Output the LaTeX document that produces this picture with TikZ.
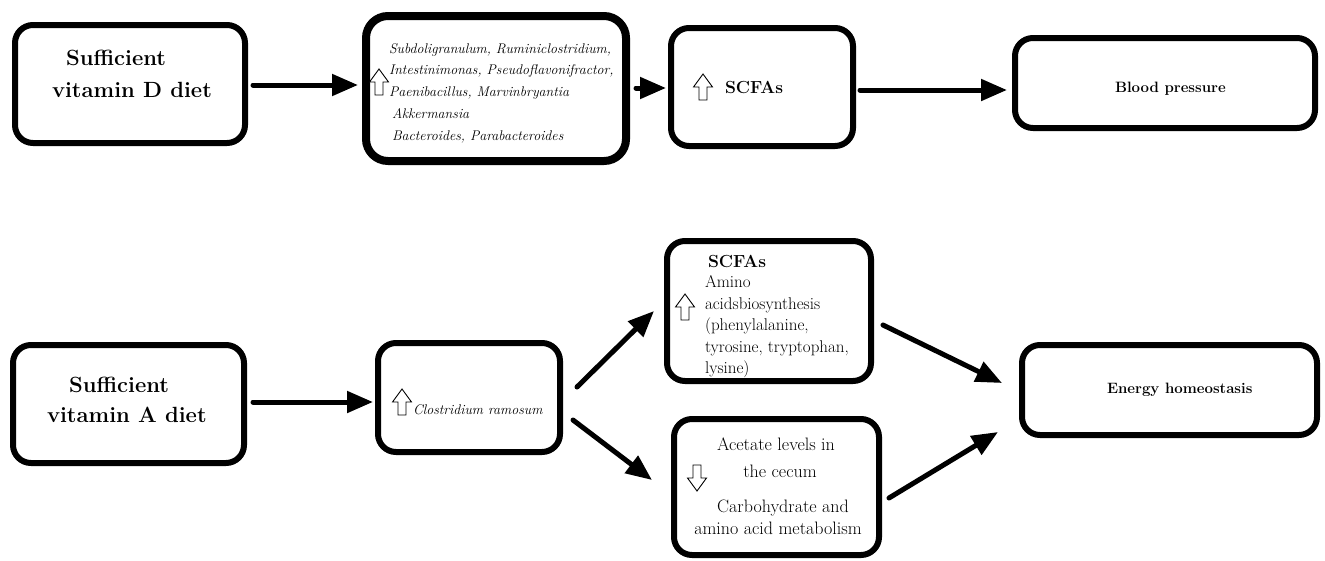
\documentclass[tikz,border=0pt]{standalone}
\usetikzlibrary{arrows.meta,calc}
\begin{document}
\begin{tikzpicture}[x=1pt,y=-1pt,
  box/.style={draw=black,line width=6pt,rounded corners=18pt,fill=white,outer sep=0pt,inner sep=0pt},
  arr/.style={line width=5pt,line cap=round,-{Triangle[length=26pt,width=21pt]}},
  tx/.style={inner sep=0pt,outer sep=0pt,anchor=base west,text=black},
  txc/.style={inner sep=0pt,outer sep=0pt,anchor=base,text=black},
  big/.style={font=\fontsize{22}{26}\selectfont\bfseries},
  bac/.style={font=\fontsize{14}{17}\selectfont\itshape},
  hd/.style={font=\fontsize{17.5}{21}\selectfont\bfseries},
  sm/.style={font=\fontsize{15}{18}\selectfont\bfseries},
  body/.style={font=\fontsize{17}{20}\selectfont},
  bodyb/.style={font=\fontsize{18}{21}\selectfont},
  uparr/.pic={\draw[line width=0.9pt,fill=white,line join=miter] (-4,0)--(-4,-13)--(-9.5,-13)--(0,-26)--(9.5,-13)--(4,-13)--(4,0)--cycle;},
  downarr/.pic={\draw[line width=0.9pt,fill=white,line join=miter] (-4,0)--(-4,13)--(-9.5,13)--(0,26)--(9.5,13)--(4,13)--(4,0)--cycle;}
]
\useasboundingbox[fill=white] (0,0) rectangle (1325,560);

% boxes
\node[box,minimum width=230pt,minimum height=118pt] (vitd) at (130,84) {};
\node[box,line width=8pt,rounded corners=22pt,minimum width=260pt,minimum height=145pt] (bact) at (496,88.5) {};
\node[box,minimum width=182pt,minimum height=118pt] (scfa1) at (762,87) {};
\node[box,minimum width=300pt,minimum height=90pt] (bp) at (1165,83) {};
\node[box,minimum width=231pt,minimum height=118pt] (vita) at (128.5,404) {};
\node[box,minimum width=182pt,minimum height=109pt] (clos) at (469,397.5) {};
\node[box,minimum width=204pt,minimum height=140pt] (scfa2) at (769,311) {};
\node[box,minimum width=205pt,minimum height=136pt] (acet) at (776.5,487) {};
\node[box,minimum width=295pt,minimum height=90pt] (energy) at (1169.5,390) {};

% texts
\node[tx,big] (t1a) at (66,65) {Sufficient};
\node[tx,big] (t1b) at (52,97) {vitamin D diet};

\node[tx,bac] (t2a) at (389,53) {Subdoligranulum, Ruminiclostridium,};
\node[tx,bac] (t2b) at (389,74) {Intestinimonas, Pseudoflavonifractor,};
\node[tx,bac] (t2c) at (389,96) {Paenibacillus, Marvinbryantia};
\node[tx,bac] (t2d) at (392,118) {Akkermansia};
\node[tx,bac] (t2e) at (392,140) {Bacteroides, Parabacteroides};

\node[tx,hd] (t3) at (725,93) {SCFAs};
\node[tx,sm] (t4) at (1115,92) {Blood pressure};

\node[tx,big] (t5a) at (69,392) {Sufficient};
\node[tx,big] (t5b) at (47,422) {vitamin A diet};

\node[tx,bac] (t6) at (413,414) {Clostridium ramosum};

\node[tx,hd] (t7) at (708,267) {SCFAs};
\node[tx,body] (t7a) at (705,287) {Amino};
\node[tx,body] (t7b) at (705,309) {acidsbiosynthesis};
\node[tx,body] (t7c) at (705,330) {(phenylalanine,};
\node[tx,body] (t7d) at (705,352) {tyrosine, tryptophan,};
\node[tx,body] (t7e) at (705,373) {lysine)};

\node[txc,bodyb] (t8a) at (776,450) {Acetate levels in};
\node[txc,bodyb] (t8b) at (780,477) {the cecum};
\node[txc,bodyb] (t8c) at (783,512) {Carbohydrate and};
\node[txc,bodyb] (t8d) at (778,534) {amino acid metabolism};

\node[tx,sm] (t9) at (1107,393) {Energy homeostasis};

% outline arrows
\pic at (379,95) {uparr};
\pic at (703,100) {uparr};
\pic at (402,415) {uparr};
\pic at (685,320) {uparr};
\pic at (697,465) {downarr};

% connectors
\draw[arr] ($(vitd.east)+(8,1)$) -- ($(bact.west)+(-8,-3.5)$);
\draw[arr] ($(bact.east)+(10,-0.5)$) -- ($(scfa1.west)+(-5,1)$);
\draw[arr] ($(scfa1.east)+(7,3)$) -- ($(bp.west)+(-8,7)$);
\draw[arr] ($(vita.east)+(9,-2)$) -- ($(clos.west)+(-5,4.5)$);
\draw[arr] ($(clos.east)+(17,-10.5)$) -- ($(scfa2.west)+(-13,0)$);
\draw[arr] ($(clos.east)+(13,22.5)$) -- ($(acet.west)+(-22,-7)$);
\draw[arr] ($(scfa2.east)+(12,14)$) -- ($(energy.west)+(-20,-7)$);
\draw[arr] ($(acet.east)+(10,11)$) -- ($(energy.west)+(-24,42)$);
\end{tikzpicture}
\end{document}
